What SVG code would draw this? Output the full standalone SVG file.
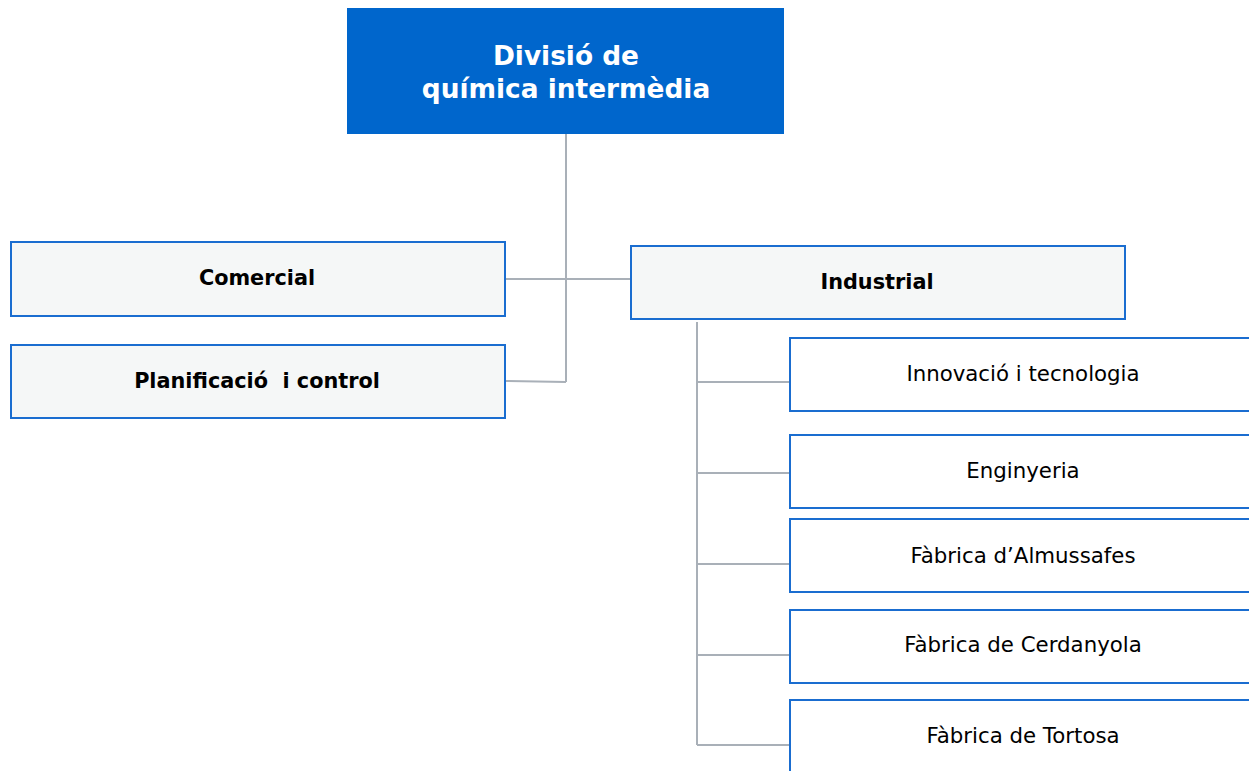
<svg xmlns="http://www.w3.org/2000/svg" width="1249" height="771" viewBox="0 0 1249 771">
<style>
.l1{fill:#F5F7F7;stroke:#1A6DD0;stroke-width:2}
.l2{fill:#FFFFFF;stroke:#1A6DD0;stroke-width:2}
.b{font-family:"DejaVu Sans",Verdana,sans-serif;font-weight:bold;font-size:20.8px;fill:#000;text-anchor:middle}
.n{font-family:"DejaVu Sans",Verdana,sans-serif;font-size:21.3px;fill:#000;text-anchor:middle}
.t{font-family:"DejaVu Sans",Verdana,sans-serif;font-weight:bold;font-size:26.4px;fill:#fff;text-anchor:middle}
.c{fill:none;stroke:#A9B0B8;stroke-width:2}
</style>
<rect width="1249" height="771" fill="#fff"/>
<g id="connectors">
<path class="c" d="M566,134 V382 M505,279 H630 M505,381 L566,382"/>
<path class="c" d="M697,322 V745 M697,382 H789 M697,473 H789 M697,564 H789 M697,655 H789 M697,745 H789"/>
</g>
<g id="root">
<rect x="347" y="8" width="437" height="126" fill="#0066CC"/>
<text class="t" x="566" y="65">Divisió de</text>
<text class="t" x="566" y="98">química intermèdia</text>
</g>
<g id="comercial">
<rect class="l1" x="11" y="242" width="494" height="74"/>
<text class="b" x="257" y="285">Comercial</text>
</g>
<g id="planificacio">
<rect class="l1" x="11" y="345" width="494" height="73"/>
<text class="b" x="257" y="388" xml:space="preserve">Planificació  i control</text>
</g>
<g id="industrial">
<rect class="l1" x="631" y="246" width="494" height="73"/>
<text class="b" x="877" y="289">Industrial</text>
</g>
<g id="innovacio">
<rect class="l2" x="790" y="338" width="470" height="73"/>
<text class="n" x="1023" y="381">Innovació i tecnologia</text>
</g>
<g id="enginyeria">
<rect class="l2" x="790" y="435" width="470" height="73"/>
<text class="n" x="1023" y="478">Enginyeria</text>
</g>
<g id="almussafes">
<rect class="l2" x="790" y="519" width="470" height="73"/>
<text class="n" x="1023" y="563">Fàbrica d’Almussafes</text>
</g>
<g id="cerdanyola">
<rect class="l2" x="790" y="610" width="470" height="73"/>
<text class="n" x="1023" y="652">Fàbrica de Cerdanyola</text>
</g>
<g id="tortosa">
<rect class="l2" x="790" y="700" width="470" height="90"/>
<text class="n" x="1023" y="743">Fàbrica de Tortosa</text>
</g>
</svg>
